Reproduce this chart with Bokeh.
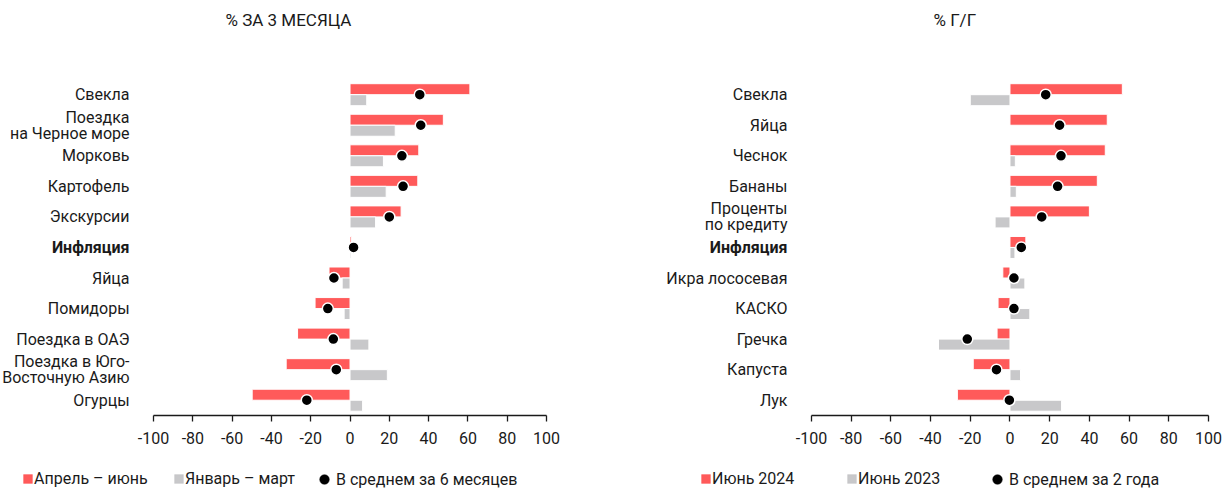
from bokeh.plotting import figure
from bokeh.models import ColumnDataSource, Legend, LegendItem, Range1d, FixedTicker
from bokeh.layouts import row, column
from bokeh.transform import dodge
from bokeh.core.properties import value
from bokeh.embed import file_html
from bokeh.resources import INLINE

# ---------------- data ----------------
left_title = "% ЗА 3 МЕСЯЦА"
left_cats = ["Свекла", "Поездка\nна Черное море", "Морковь", "Картофель", "Экскурсии",
             "Инфляция", "Яйца", "Помидоры", "Поездка в ОАЭ",
             "Поездка в Юго-\nВосточную Азию", "Огурцы"]
left_apr_jun = [61, 47.5, 35, 34.5, 26, 0.8, -10.7, -17.8, -26.7, -32.5, -49.8]
left_jan_mar = [8.5, 23, 17, 18.4, 13, 0.5, -4, -3, 9.6, 19, 6.4]
left_avg6 = [35.5, 36, 26.4, 27, 20, 1.8, -8.2, -11.3, -8.5, -7, -22]
left_legend = ["Апрель – июнь", "Январь – март", "В среднем за 6 месяцев"]

right_title = "% Г/Г"
right_cats = ["Свекла", "Яйца", "Чеснок", "Бананы", "Проценты\nпо кредиту", "Инфляция",
              "Икра лососевая", "КАСКО", "Гречка", "Капуста", "Лук"]
right_jun24 = [56.6, 49, 48, 44, 40, 8, -3.6, -6, -6.5, -18.5, -26.5]
right_jun23 = [-20, 0, 2.7, 3.2, -7.5, 2.5, 7.5, 10, -36, 5.3, 26]
right_avg2 = [18, 25, 25.7, 24, 16, 5.7, 2, 2, -21.5, -6.8, -0.3]
right_legend = ["Июнь 2024", "Июнь 2023", "В среднем за 2 года"]

bold_cat = "Инфляция"
x_ticks = [-100, -80, -60, -40, -20, 0, 20, 40, 60, 80, 100]

RED = "#FF5A5A"
GREY = "#C8C8CA"
TXT = "#1a1a1a"
FONT = "Roboto"
FS = "16px"


def bar_style():
    return dict(line_color="white", line_width=1)


def one_legend(label, renderer, loc, glyph, standoff):
    return Legend(items=[LegendItem(label=label, renderers=[renderer])],
                  orientation="horizontal", location=loc,
                  padding=0, margin=0, spacing=0,
                  glyph_width=glyph, glyph_height=glyph, label_standoff=standoff,
                  label_height=18,
                  label_text_font=FONT, label_text_font_size=FS, label_text_color=TXT,
                  background_fill_alpha=0, border_line_color=None)


def make_panel(title, cats, a, b, avg, legend_labels, x_start, bright, title_x, leg_xs):
    n = len(cats)
    ys = list(range(n - 1, -1, -1))
    src = ColumnDataSource(dict(y=ys, cat=cats, a=a, b=b, avg=avg))
    p = figure(width=615, height=455, output_backend="svg", toolbar_location=None,
               x_range=Range1d(x_start, 100), y_range=Range1d(-0.5, 11.97),
               min_border_left=0, min_border_right=bright, min_border_top=34,
               min_border_bottom=40)
    p.title.text = title
    p.title.align = "left"
    p.title.offset = title_x
    p.title.standoff = 10
    p.title.text_font = FONT
    p.title.text_font_size = "17px"
    p.title.text_font_style = "normal"
    p.title.text_color = TXT

    p.hbar(y=dodge("y", 0.18), left=0, right="a", height=0.36, source=src,
           fill_color=RED, **bar_style())
    p.hbar(y=dodge("y", -0.18), left=0, right="b", height=0.36, source=src,
           fill_color=GREY, **bar_style())
    p.scatter(x="avg", y="y", size=11, source=src, fill_color="black",
              line_color="white", line_width=1.5)

    norm = ColumnDataSource(dict(y=[y for y, c in zip(ys, cats) if c != bold_cat],
                                 cat=[c for c in cats if c != bold_cat]))
    bold = ColumnDataSource(dict(y=[y for y, c in zip(ys, cats) if c == bold_cat],
                                 cat=[c for c in cats if c == bold_cat]))
    for s, style in ((norm, "normal"), (bold, "bold")):
        p.text(x=-100, y="y", text="cat", source=s, x_offset=-24,
               text_align="right", text_baseline="middle",
               text_font=value(FONT), text_font_size=FS, text_font_style=style,
               text_color=TXT, text_line_height=0.85)

    p.yaxis.visible = False
    p.xgrid.visible = False
    p.ygrid.visible = False
    p.outline_line_color = None
    ax = p.xaxis[0]
    ax.bounds = (-100, 100)
    ax.ticker = FixedTicker(ticks=x_ticks)
    ax.major_label_overrides = {t: str(t) for t in x_ticks}
    ax.axis_line_color = TXT
    ax.axis_line_width = 1.3
    ax.major_tick_line_color = TXT
    ax.major_tick_line_width = 1.3
    ax.major_tick_out = 6
    ax.major_tick_in = 0
    ax.minor_tick_line_color = None
    ax.major_label_standoff = 10
    ax.major_label_text_font = FONT
    ax.major_label_text_font_size = FS
    ax.major_label_text_color = TXT

    # legend strip: same data source, its marks fall outside this strip's range
    lf = figure(width=615, height=37, output_backend="svg", toolbar_location=None,
                x_range=Range1d(0, 1), y_range=Range1d(100, 101),
                min_border_left=0, min_border_right=0, min_border_top=0, min_border_bottom=0)
    lf.axis.visible = False
    lf.grid.visible = False
    lf.outline_line_color = None
    k1 = lf.hbar(y="y", left=0, right="a", height=0.36, source=src, fill_color=RED,
                 line_color=RED, line_width=0.5)
    k2 = lf.hbar(y="y", left=0, right="b", height=0.36, source=src, fill_color=GREY,
                 line_color=GREY, line_width=0.5)
    k3 = lf.scatter(x="avg", y="y", size=11, source=src, fill_color="black",
                    line_color="black", line_width=0.5)
    lf.add_layout(one_legend(legend_labels[0], k1, (leg_xs[0], 4), 11, 1))
    lf.add_layout(one_legend(legend_labels[1], k2, (leg_xs[1], 4), 11, 1))
    lf.add_layout(one_legend(legend_labels[2], k3, (leg_xs[2], 1), 24, 0))
    return column(p, lf, spacing=0)


c1 = make_panel(left_title, left_cats, left_apr_jun, left_jan_mar, left_avg6, left_legend,
                -177.9, 69, 225, (22, 173, 312))
c2 = make_panel(right_title, right_cats, right_jun24, right_jun23, right_avg2, right_legend,
                -198.7, 22, 318, (85, 231, 370))

layout = row(c1, c2, spacing=0)
open("out.html", "w").write(file_html(layout, INLINE))
